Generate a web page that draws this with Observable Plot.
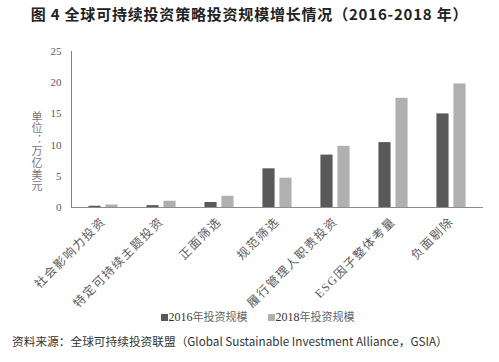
<!DOCTYPE html>
<html>
<head>
<meta charset="utf-8">
<script src="https://cdn.jsdelivr.net/npm/d3@7"></script>
<script src="https://cdn.jsdelivr.net/npm/@observablehq/plot@0.6"></script>
<style>
  html, body { margin: 0; padding: 0; background: #fff; }
  #wrap { position: relative; width: 499px; height: 362px; overflow: hidden; background: #fff; }
  #title { position: absolute; left: 0; top: 4px; width: 499px; text-align: center; letter-spacing: 0.8px;
    font-family: "Noto Sans CJK SC", sans-serif; font-weight: bold; font-size: 15px; color: #222; line-height: 20px; }
  #chart { position: absolute; left: 0; top: 0; }
  #ylab { position: absolute; left: 30px; top: 111px; writing-mode: vertical-rl; text-orientation: upright;
    font-family: "Noto Sans CJK SC", sans-serif; font-size: 11px; color: #777; letter-spacing: 0.6px; line-height: 14px; }
  #legend { position: absolute; left: 0; top: 309px; width: 499px; text-align: center; padding-left: 16px; box-sizing: border-box;
    font-family: "Liberation Serif", "Noto Sans CJK SC", serif; font-size: 11px; color: #666; line-height: 16px; }
  #legend span.item { margin: 0 10px; }
  #legend span.sw { display: inline-block; width: 7px; height: 7px; margin-right: 1px; vertical-align: 0px; }
  #legend .num { color: #333; font-size: 12px; }
  #caption { position: absolute; left: 12px; top: 332px; font-family: "Noto Sans CJK SC", sans-serif;
    font-size: 11.7px; color: #333; line-height: 18px; white-space: nowrap; }
  svg g[aria-label="y-axis tick label"] text { font-size: 11px; }
  svg g[aria-label="x-axis tick label"] text { letter-spacing: 1.5px; }
</style>
</head>
<body>
<div id="wrap">
  <div id="chart"></div>
  <div id="title">图 4 全球可持续投资策略投资规模增长情况（2016-2018 年）</div>
  <div id="ylab">单位：万亿美元</div>
  <div id="legend"></div>
  <div id="caption">资料来源：全球可持续投资联盟（Global Sustainable Investment Alliance，GSIA）</div>
</div>
<script>
const categories = ["社会影响力投资", "特定可持续主题投资", "正面筛选", "规范筛选", "履行管理人职责投资", "ESG因子整体考量", "负面剔除"];
const values2016 = [0.2, 0.3, 0.8, 6.2, 8.4, 10.4, 15.0];
const values2018 = [0.4, 1.0, 1.8, 4.7, 9.8, 17.5, 19.8];
const yTicks = [0, 5, 10, 15, 20, 25];
const seriesNames = ["2016年投资规模", "2018年投资规模"];
const colors = ["#595959", "#b0b0b0"];

const d2016 = categories.map((c, i) => ({category: c, value: values2016[i]}));
const d2018 = categories.map((c, i) => ({category: c, value: values2018[i]}));

const W = 499, H = 305, mL = 71, mR = 16, mT = 51, mB = 98;
const band = (W - mL - mR) / categories.length;
const barW = 13, gap = 4;
const half = band / 2;

const chart = Plot.plot({
  width: W,
  height: H,
  marginLeft: mL,
  marginRight: mR,
  marginTop: mT,
  marginBottom: mB,
  style: {fontFamily: "'Liberation Serif', 'Noto Sans CJK SC', serif", fontSize: "12px", color: "#595959", background: "transparent", overflow: "visible"},
  x: {domain: categories, padding: 0, tickRotate: -45, tickSize: 0, tickPadding: 12, label: null},
  y: {domain: [0, 25], ticks: yTicks, tickSize: 0, tickPadding: 10, label: null},
  marks: [
    Plot.barY(d2016, {x: "category", y: "value", fill: colors[0],
      insetLeft: half - gap / 2 - barW, insetRight: half + gap / 2}),
    Plot.barY(d2018, {x: "category", y: "value", fill: colors[1],
      insetLeft: half + gap / 2, insetRight: half - gap / 2 - barW}),
    Plot.frame({anchor: "left", stroke: "#808080"}),
    Plot.ruleY([0], {stroke: "#8c8c8c", strokeWidth: 1.2})
  ]
});
document.getElementById("chart").appendChild(chart);

const legend = document.getElementById("legend");
seriesNames.forEach((name, i) => {
  const item = document.createElement("span");
  item.className = "item";
  const sw = document.createElement("span");
  sw.className = "sw";
  sw.style.background = colors[i];
  item.appendChild(sw);
  const m = name.match(/^(\d+)(.*)$/);
  const num = document.createElement("span");
  num.className = "num";
  num.textContent = m[1];
  item.appendChild(num);
  item.appendChild(document.createTextNode(m[2]));
  legend.appendChild(item);
});
</script>
</body>
</html>
